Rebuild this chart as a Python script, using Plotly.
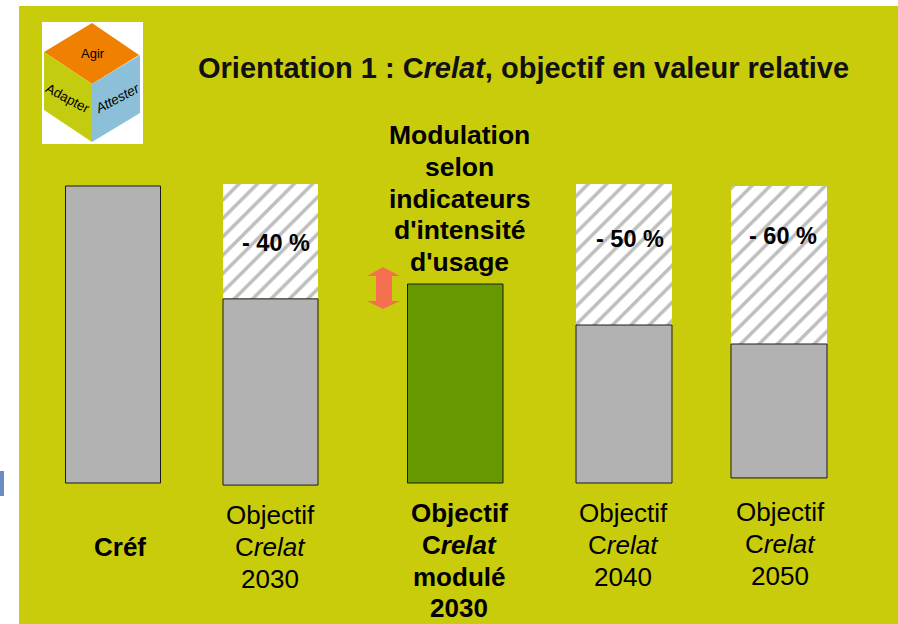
import plotly.graph_objects as go

# Data (Cref = 100 on the value axis)
categories = ["Créf", "Objectif Crelat 2030", "Objectif Crelat modulé 2030",
              "Objectif Crelat 2040", "Objectif Crelat 2050"]
bar_low = [0, -0.7, 0, 0, 1.7]
bar_high = [100, 62, 67, 53.2, 46.8]
reduction_top = [None, 100.7, None, 100.7, 100]
reduction_labels = ["", "- 40 %", "", "- 50 %", "- 60 %"]

W, H = 898, 624
FONT = "Liberation Sans"
PX_PER_UNIT = 2.97
ZERO_PX = 483
centers = [113, 270.5, 455.25, 624, 779]
widths = [95, 95, 95.5, 96, 96]
colors = ["#B2B2B2", "#B2B2B2", "#669900", "#B2B2B2", "#B2B2B2"]

fig = go.Figure()

# hatched reduction segments
hx, hb, hh, hw = [], [], [], []
for c, w, lo, top in zip(centers, widths, bar_high, reduction_top):
    if top is not None:
        hx.append(c); hb.append(lo); hh.append(top - lo); hw.append(w)
fig.add_trace(go.Bar(x=hx, y=hh, base=hb, width=hw, hoverinfo="skip",
                     marker=dict(color="#FFFFFF", line=dict(width=0),
                                 pattern=dict(shape="/", size=13, solidity=0.27,
                                              fgcolor="#BEBEBE", bgcolor="#FFFFFF",
                                              fillmode="replace"))))
# solid bars
fig.add_trace(go.Bar(x=centers, y=[h - l for h, l in zip(bar_high, bar_low)], base=bar_low,
                     width=widths, marker=dict(color=colors, line=dict(color="#1A1A1A", width=1)),
                     hovertext=categories, hoverinfo="text"))


def yp(p):
    return 1 - p / H


def xp(p):
    return p / W


def text(x, y, s, size, color="#000000", angle=0, family=FONT):
    fig.add_annotation(x=xp(x), y=yp(y), xref="paper", yref="paper", text=s, showarrow=False,
                       xanchor="center", yanchor="middle", textangle=angle,
                       font=dict(family=family, size=size, color=color))


def poly(pts, color, layer="below"):
    d = "M" + " L".join(f"{xp(a):.5f},{yp(b):.5f}" for a, b in pts) + " Z"
    fig.add_shape(type="path", path=d, xref="paper", yref="paper", fillcolor=color,
                  line=dict(width=0), layer=layer)


# background
poly([(19, 6), (898, 6), (898, 624), (19, 624)], "#C9CC0B")
poly([(0, 471), (4, 471), (4, 496), (0, 496)], "#6C8CC4")
# logo
poly([(42, 22), (143, 22), (143, 144), (42, 144)], "#FFFFFF", "above")
poly([(92, 23), (139, 55), (92, 84), (44, 52)], "#F08000", "above")
poly([(44, 52), (92, 84), (92, 142), (44, 110)], "#C4CC10", "above")
poly([(92, 84), (140, 55), (140, 113), (92, 142)], "#8CC0D8", "above")
text(93, 53, "Agir", 13)
text(68, 98, "Adapter", 13.5, angle=28)
text(117, 98, "<i>Attester</i>", 13.5, angle=-28)
# double arrow
poly([(383, 267), (400, 276), (392, 276), (392, 301), (400, 301), (383, 309),
      (367, 301), (376, 301), (376, 276), (367, 276)], "#F47050", "above")

text(523, 68, "<b>Orientation 1 : C<i>relat</i>, objectif en valeur relative</b>", 29, "#111111")
for y, s in zip([135, 167, 199, 230, 262],
                ["Modulation", "selon", "indicateurs", "d'intensité", "d'usage"]):
    text(459.5, y, f"<b>{s}</b>", 26.5)
for (x, y), s in zip([(276, 243), (630, 239), (783, 236)], [r for r in reduction_labels if r]):
    text(x, y, f"<b>{s}</b>", 23.5)

text(119.5, 547, "<b>Créf</b>", 26)
for x, ys, lines in [
    (270, [515, 547, 579], ["Objectif", "C<i>relat</i>", "2030"]),
    (623, [513, 545, 577], ["Objectif", "C<i>relat</i>", "2040"]),
    (780, [512, 544, 576], ["Objectif", "C<i>relat</i>", "2050"]),
]:
    for y, s in zip(ys, lines):
        text(x, y, s, 26)
for y, s in zip([513, 545, 577, 608], ["Objectif", "C<i>relat</i>", "modulé", "2030"]):
    text(459, y, f"<b>{s}</b>", 26)

fig.update_layout(
    width=W, height=H, margin=dict(l=0, r=0, t=0, b=0), showlegend=False, barmode="overlay",
    paper_bgcolor="#FFFFFF", plot_bgcolor="rgba(0,0,0,0)", font=dict(family=FONT),
    xaxis=dict(range=[0, W], visible=False, fixedrange=True),
    yaxis=dict(range=[(ZERO_PX - H) / PX_PER_UNIT, ZERO_PX / PX_PER_UNIT], visible=False, fixedrange=True),
)
fig.write_html("out.html", config={"displayModeBar": False},
               post_script="document.body.style.margin='0';document.body.style.overflow='hidden';")
